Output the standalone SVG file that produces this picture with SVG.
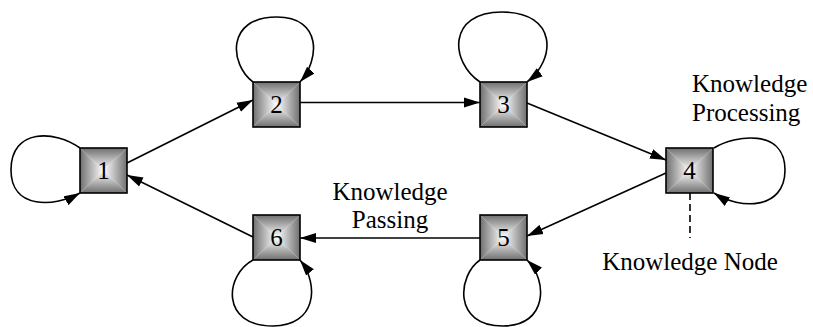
<svg xmlns="http://www.w3.org/2000/svg" xmlns:xlink="http://www.w3.org/1999/xlink" width="813" height="327" viewBox="0 0 813 327">
<style>
.lbl{font-family:"Liberation Serif","Times New Roman",serif;font-size:25px;fill:#000}
.num{font-family:"Liberation Serif","Times New Roman",serif;font-size:25px;fill:#000;text-anchor:middle}
.edge{fill:none;stroke:#000;stroke-width:1.6}
</style>
<defs>
<linearGradient id="gT" x1="0" y1="0" x2="0" y2="1"><stop offset="0" stop-color="#6f6f6f"/><stop offset="1" stop-color="#ffffff"/></linearGradient>
<linearGradient id="gB" x1="0" y1="1" x2="0" y2="0"><stop offset="0" stop-color="#6f6f6f"/><stop offset="1" stop-color="#ffffff"/></linearGradient>
<linearGradient id="gL" x1="0" y1="0" x2="1" y2="0"><stop offset="0" stop-color="#6f6f6f"/><stop offset="1" stop-color="#ffffff"/></linearGradient>
<linearGradient id="gR" x1="1" y1="0" x2="0" y2="0"><stop offset="0" stop-color="#6f6f6f"/><stop offset="1" stop-color="#ffffff"/></linearGradient>
<g id="box">
<polygon points="0,0 47,0 23.5,22.5" fill="url(#gT)"/>
<polygon points="0,45 47,45 23.5,22.5" fill="url(#gB)"/>
<polygon points="0,0 0,45 23.5,22.5" fill="url(#gL)"/>
<polygon points="47,0 47,45 23.5,22.5" fill="url(#gR)"/>
<rect x="0" y="0" width="47" height="45" fill="none" stroke="#000" stroke-width="1.6"/>
</g>
<marker id="ah" markerWidth="17" markerHeight="11" refX="16" refY="5.5" orient="auto" markerUnits="userSpaceOnUse">
<path d="M0,0.5 L16,5.5 L0,10.5 z" fill="#000"/>
</marker>
</defs>
<g id="connectors">
<path class="edge" d="M127,163 L253,100" marker-end="url(#ah)"/>
<path class="edge" d="M300,102.5 L480,102.5" marker-end="url(#ah)"/>
<path class="edge" d="M527,103 L666,160" marker-end="url(#ah)"/>
<path class="edge" d="M666,173 L527,236" marker-end="url(#ah)"/>
<path class="edge" d="M480,238 L300,238" marker-end="url(#ah)"/>
<path class="edge" d="M253,237 L127,175" marker-end="url(#ah)"/>
<path class="edge" d="M80,148 C55,130 11,128 11,170 C11,210 55,207 80,193" marker-end="url(#ah)"/>
<path class="edge" d="M253,82 C230,65 225,17 277,17 C322,17 320,60 300,82" marker-end="url(#ah)"/>
<path class="edge" d="M480,82 C450,62 447,12 502,12 C558,12 556,60 527,82" marker-end="url(#ah)"/>
<path class="edge" d="M714,148 C735,135 785,128 785,170 C785,210 740,210 714,193" marker-end="url(#ah)"/>
<path class="edge" d="M480,260 C458,275 452,326 503,326 C548,326 548,280 527,260" marker-end="url(#ah)"/>
<path class="edge" d="M253,260 C225,275 220,326 273,326 C316,326 320,285 300,260" marker-end="url(#ah)"/>
<path class="edge" d="M690,193 L690,238" stroke-dasharray="7,4"/>
</g>
<g id="node1"><use xlink:href="#box" x="80" y="148"/><text class="num" x="103.5" y="178.5">1</text></g>
<g id="node2"><use xlink:href="#box" x="253" y="82"/><text class="num" x="276.5" y="112.5">2</text></g>
<g id="node3"><use xlink:href="#box" x="480" y="82"/><text class="num" x="503.5" y="112.5">3</text></g>
<g id="node4"><use xlink:href="#box" x="666" y="148"/><text class="num" x="689.5" y="178.5">4</text></g>
<g id="node5"><use xlink:href="#box" x="480" y="215"/><text class="num" x="503.5" y="245.5">5</text></g>
<g id="node6"><use xlink:href="#box" x="253" y="215"/><text class="num" x="276.5" y="245.5">6</text></g>
<g id="labels">
<text class="lbl" x="692" y="92">Knowledge</text>
<text class="lbl" x="692" y="121">Processing</text>
<text class="lbl" x="390" y="200" text-anchor="middle">Knowledge</text>
<text class="lbl" x="390" y="228" text-anchor="middle">Passing</text>
<text class="lbl" x="690" y="270" text-anchor="middle">Knowledge Node</text>
</g>
</svg>
